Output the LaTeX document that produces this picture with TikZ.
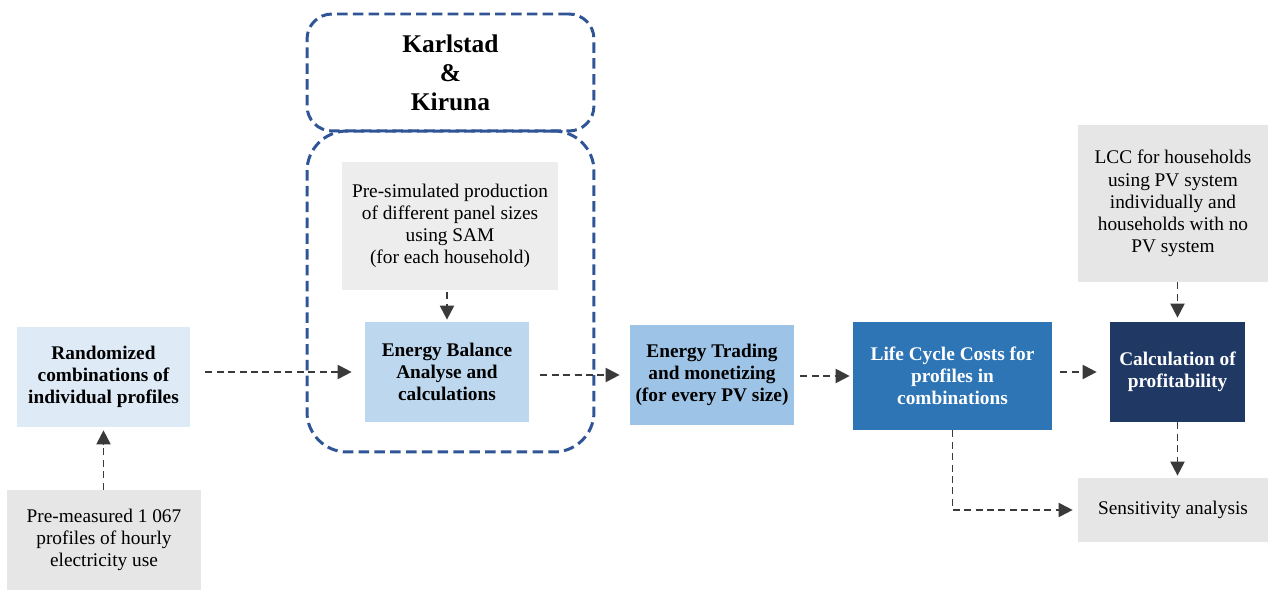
\documentclass[tikz,border=0pt]{standalone}
\usepackage{fontspec}
\setmainfont{Liberation Serif}
\usepackage{xcolor}
\usetikzlibrary{arrows.meta, calc}

\definecolor{palebox}{HTML}{DEEBF7}
\definecolor{lightbox}{HTML}{BDD7EE}
\definecolor{midbox}{HTML}{9DC3E6}
\definecolor{strongbox}{HTML}{2E75B6}
\definecolor{darkbox}{HTML}{1F3864}
\definecolor{greybox}{HTML}{E7E6E6}
\definecolor{framecol}{HTML}{2F5597}
\definecolor{arrowcol}{HTML}{3A3A3A}

\tikzset{
	box/.style={draw=none, align=center, inner sep=2pt, font=\fontsize{11}{12.6}\selectfont},
	boldbox/.style={box, font=\fontsize{11}{12.6}\selectfont\bfseries},
	frame/.style={draw=framecol, line width=1.7pt, dash pattern=on 6pt off 3pt},
	flow/.style={draw=arrowcol, line width=1.1pt, dash pattern=on 4pt off 2.5pt,
		-{Triangle[length=8pt, width=8pt]}}
}

\begin{document}
\begin{tikzpicture}[x=0.02cm, y=-0.02cm]
	\useasboundingbox (0,0) rectangle (1276,590);

	\node [frame, rounded corners=0.5cm, minimum width=5.74cm, minimum height=2.34cm,
		align=center, font=\fontsize{14.5}{16.5}\selectfont\bfseries] (sites) at (450.5,72.5) {Karlstad\\\&\\Kiruna};
	\node [frame, rounded corners=0.8cm, minimum width=5.74cm, minimum height=6.42cm] (group) at (450.5,291.5) {};

	\node [boldbox, fill=palebox, minimum width=3.46cm, minimum height=2cm] (rand) at (103.5,377) {Randomized\\combinations of\\individual profiles};
	\node [box, fill=greybox, minimum width=3.88cm, minimum height=2cm] (meas) at (104,540) {Pre-measured 1 067\\profiles of hourly\\electricity use};
	\node [box, fill=greybox!70, minimum width=4.32cm, minimum height=2.56cm] (presim) at (450,226) {Pre-simulated production\\of different panel sizes\\using SAM\\(for each household)};
	\node [boldbox, fill=lightbox, minimum width=3.28cm, minimum height=2cm] (balance) at (447,372) {Energy Balance\\Analyse and\\calculations};
	\node [boldbox, fill=midbox, minimum width=3.28cm, minimum height=2cm] (trade) at (712,375) {Energy Trading\\and monetizing\\(for every PV size)};
	\node [boldbox, fill=strongbox, text=white, minimum width=3.98cm, minimum height=2.16cm] (lcc) at (952.5,376) {Life Cycle Costs for\\profiles in\\combinations};
	\node [boldbox, fill=darkbox, text=white, minimum width=2.7cm, minimum height=2cm] (profit) at (1177.5,372) {Calculation of\\profitability};
	\node [box, fill=greybox, minimum width=3.8cm, minimum height=3.14cm] (house) at (1173,203.5) {LCC for households\\using PV system\\individually and\\households with no\\PV system};
	\node [box, fill=greybox, minimum width=3.8cm, minimum height=1.28cm] (sens) at (1173,510) {Sensitivity analysis};

	\draw [flow, shorten <=0cm, shorten >=0.06cm] (meas.north -| rand.south) -- (rand.south);
	\draw [flow, shorten <=0.3cm, shorten >=0.26cm] (rand.east |- balance.west) -- (balance.west);
	\draw [flow, shorten <=0.04cm, shorten >=0.04cm] (presim.south -| balance.north) -- (balance.north);
	\draw [flow, shorten <=0.22cm, shorten >=0.2cm] (balance.east |- trade.west) -- (trade.west);
	\draw [flow, shorten <=0.12cm, shorten >=0.06cm] (trade.east |- lcc.west) -- (lcc.west);
	\draw [flow, shorten <=0.16cm, shorten >=0.26cm] (lcc.east |- profit.west) -- (profit.west);
	\draw [flow, shorten <=0cm, shorten >=0.08cm] (house.south -| profit.north) -- (profit.north);
	\draw [flow, shorten <=0cm, shorten >=0.04cm] (profit.south) -- (profit.south |- sens.north);
	\draw [flow, shorten >=0.1cm] (lcc.south) |- (sens.west);
\end{tikzpicture}
\end{document}
